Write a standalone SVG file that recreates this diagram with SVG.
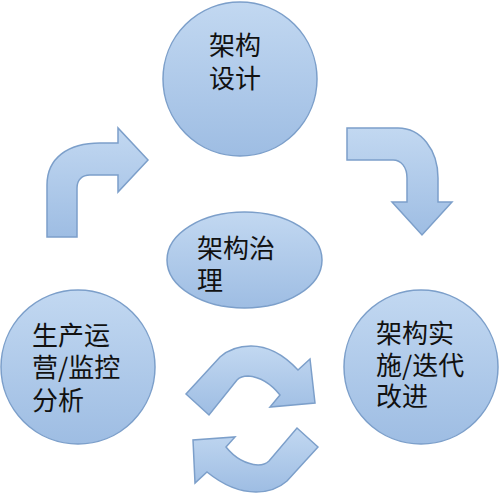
<svg xmlns="http://www.w3.org/2000/svg" width="500" height="497" viewBox="0 0 500 497">
<defs>
<linearGradient id="g" x1="0" y1="0" x2="0" y2="1">
<stop offset="0" stop-color="#c2d8f1"/>
<stop offset="1" stop-color="#9ebde3"/>
</linearGradient>
<style>
.s{fill:url(#g);stroke:#7c9fca;stroke-width:1.5}
.t{font-family:"Noto Sans CJK SC","Noto Sans CJK JP",sans-serif;font-size:26px;fill:#111}
</style>
</defs>
<rect width="500" height="497" fill="#fff"/>
<g id="connectors">
<path class="s" d="M347,128 L398,128 C421,128 438,150 438,178 L438,202 L452,202 L422,235 L392,202 L407,202 L407,178 C407,167 401,160 393,160 L347,160 Z"/>
<path class="s" d="M47,237 L47,185 C47,158 68,143 100,143 L118,143 L118,128 L148,160 L118,192 L118,175 L90,175 C82,175 77,180 77,188 L77,237 Z"/>
<path class="s" d="M186,394 L220,357 C229,349 239,346 251,346 C267,346 284,355 298,370 L310,359 L315,403 L270,407 L280,395 C272,385 261,377 248,376 C243,376 240,377 237,380 L209,415 Z"/>
<path class="s" d="M318,447 L287,481 C278,489 268,492 256,492 C240,492 223,485 207,472 L195,483 L193,440 L235,437 L226,447 C234,457 245,464 258,465 C263,465 266,464 269,461 L297,428 Z"/>
</g>
<g id="design">
<circle class="s" cx="240" cy="79" r="77"/>
<text class="t"><tspan x="209" y="55">架构</tspan><tspan x="209" y="88">设计</tspan></text>
</g>
<g id="governance">
<ellipse class="s" cx="244.5" cy="260" rx="77.5" ry="48"/>
<text class="t"><tspan x="197" y="258">架构治</tspan><tspan x="197" y="290">理</tspan></text>
</g>
<g id="operation">
<circle class="s" cx="78" cy="367" r="77"/>
<text class="t"><tspan x="32" y="345">生产运</tspan><tspan x="32" y="377">营/监控</tspan><tspan x="32" y="410">分析</tspan></text>
</g>
<g id="implementation">
<circle class="s" cx="421" cy="367" r="77"/>
<text class="t"><tspan x="376" y="343">架构实</tspan><tspan x="376" y="375">施/迭代</tspan><tspan x="376" y="406">改进</tspan></text>
</g>
</svg>
